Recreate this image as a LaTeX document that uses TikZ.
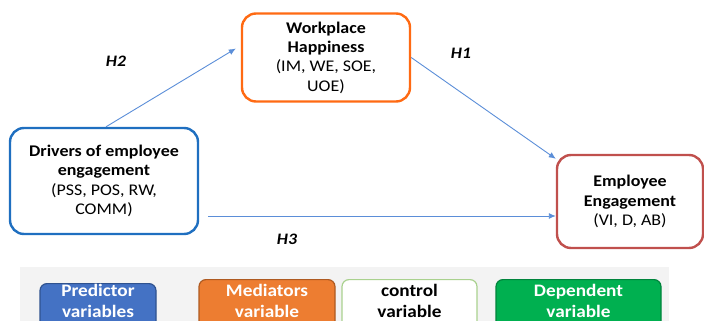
\documentclass[tikz,border=0pt]{standalone}
\usepackage{fontspec}
\setmainfont{Carlito}[FakeStretch=1.1]
\usetikzlibrary{arrows.meta}
\definecolor{drvblue}{HTML}{1F6FC0}
\definecolor{whorange}{HTML}{FF6A13}
\definecolor{eered}{HTML}{C0504D}
\definecolor{arrblue}{HTML}{5B8ED8}
\definecolor{legbg}{HTML}{F3F3F3}
\definecolor{predfill}{HTML}{4472C4}
\definecolor{predline}{HTML}{2F528F}
\definecolor{medfill}{HTML}{ED7D31}
\definecolor{medline}{HTML}{AE5A21}
\definecolor{ctrlline}{HTML}{A9D18E}
\definecolor{depfill}{HTML}{00B050}
\definecolor{depline}{HTML}{00843C}
\tikzset{
  mainbox/.style={draw, line width=2.4pt, rounded corners=14pt, fill=white, align=center,
    font=\fontsize{16.3}{19.3}\selectfont, inner sep=0pt},
  arr/.style={draw=arrblue, line width=0.9pt, -{Latex[length=7pt,width=6pt]}},
  hlab/.style={font=\fontsize{16}{19}\selectfont\bfseries\itshape, inner sep=0pt},
  legbox/.style={draw, line width=1.2pt, rounded corners=7pt, anchor=north, align=center,
    font=\fontsize{17.5}{21.5}\selectfont\bfseries, text depth=14pt, inner ysep=4.5pt}
}
\begin{document}
\begin{tikzpicture}[x=1pt,y=-1pt]
\useasboundingbox (0,0) rectangle (704,321);
\clip (0,0) rectangle (704,321);
% main boxes
\node[mainbox, draw=drvblue, minimum width=188pt, minimum height=106pt] (drv) at (104,181)
  {\textbf{Drivers of employee}\\\textbf{engagement}\\(PSS, POS, RW,\\COMM)};
\node[mainbox, draw=whorange, minimum width=168pt, minimum height=88pt] (wh) at (326,57.5)
  {\textbf{Workplace}\\\textbf{Happiness}\\(IM, WE, SOE,\\UOE)};
\node[mainbox, draw=eered, minimum width=146pt, minimum height=93pt] (ee) at (630,201.5)
  {\textbf{Employee}\\\textbf{Engagement}\\(VI, D, AB)};
% connectors
\draw[arr] ([xshift=2pt]drv.north) -- ([xshift=-5pt,yshift=9pt]wh.west);
\draw[arr] (wh.east) -- ([yshift=-5pt]ee.north west);
\coordinate (h3s) at ([xshift=9pt,yshift=-35pt]drv.east);
\draw[arr] (h3s) -- (h3s -| ee.west);
% labels
\node[hlab] (h2) at (116,61) {H2};
\node[hlab] (h1) at (461,53) {H1};
\node[hlab] (h3) at (287,239) {H3};
% legend
\fill[legbg] (20,267) rectangle (669,330);
\node[legbox, draw=predline, fill=predfill, text=white, minimum width=116pt, inner ysep=0.5pt] (lp) at (98,283)
  {Predictor\\variables};
\node[legbox, draw=medline, fill=medfill, text=white, minimum width=136pt] (lm) at (267,279)
  {Mediators\\variable};
\node[legbox, draw=ctrlline, fill=white, text=black, minimum width=135pt] (lc) at (409.5,279)
  {control\\variable};
\node[legbox, draw=depline, fill=depfill, text=white, minimum width=165pt] (ld) at (578.5,279)
  {Dependent\\variable};
\end{tikzpicture}
\end{document}
